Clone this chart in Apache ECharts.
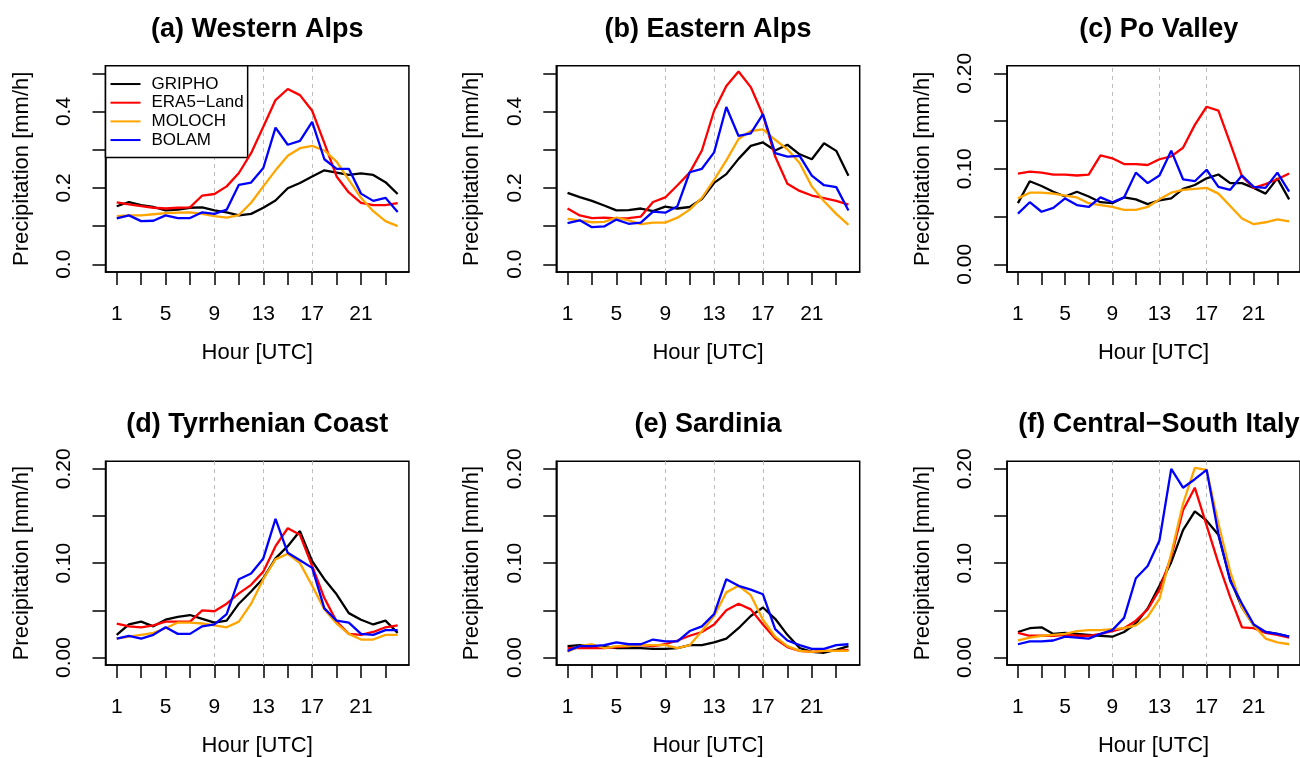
<!DOCTYPE html>
<html><head><meta charset="utf-8">
<script src="https://cdn.jsdelivr.net/npm/echarts@6/dist/echarts.min.js"></script>
<style>html,body{margin:0;padding:0;background:#fff}#c{width:1300px;height:758px}</style>
</head><body><div id="c"></div>
<script>
// ---------- data ----------
const hours = [1,2,3,4,5,6,7,8,9,10,11,12,13,14,15,16,17,18,19,20,21,22,23,24];
const tickHours = [1,3,5,7,9,11,13,15,17,19,21,23];
const labelHours = [1,5,9,13,17,21];
const dashedHours = [9,13,17];
const seriesNames = ['GRIPHO','ERA5\u2212Land','MOLOCH','BOLAM'];
const seriesColors = ['#000000','#FF0000','#FFA500','#0000FF'];
const panelTitles = ['(a) Western Alps','(b) Eastern Alps','(c) Po Valley','(d) Tyrrhenian Coast','(e) Sardinia','(f) Central\u2212South Italy'];
const yTicksLarge = [0,0.1,0.2,0.3,0.4,0.5];
const yLabelsLarge = [0,0.2,0.4];
const yTicksSmall = [0,0.05,0.1,0.15,0.2];
const yLabelsSmall = [0,0.1,0.2];

const westernAlps_GRIPHO = [0.152,0.163,0.155,0.150,0.141,0.143,0.148,0.149,0.141,0.136,0.128,0.132,0.148,0.167,0.199,0.213,0.230,0.246,0.240,0.234,0.238,0.234,0.215,0.184];
const westernAlps_ERA5   = [0.162,0.157,0.152,0.148,0.146,0.148,0.149,0.180,0.184,0.204,0.239,0.291,0.360,0.430,0.459,0.443,0.402,0.317,0.230,0.188,0.161,0.155,0.155,0.160];
const westernAlps_MOLOCH = [0.126,0.128,0.128,0.131,0.134,0.135,0.136,0.132,0.126,0.122,0.129,0.161,0.204,0.246,0.284,0.304,0.310,0.298,0.269,0.221,0.174,0.139,0.113,0.100];
const westernAlps_BOLAM  = [0.120,0.128,0.113,0.114,0.128,0.121,0.121,0.136,0.132,0.143,0.208,0.214,0.252,0.358,0.313,0.323,0.373,0.275,0.250,0.250,0.185,0.166,0.174,0.137];

const easternAlps_GRIPHO = [0.187,0.176,0.166,0.154,0.141,0.142,0.146,0.139,0.151,0.146,0.150,0.171,0.213,0.236,0.276,0.310,0.319,0.298,0.313,0.288,0.275,0.317,0.297,0.232];
const easternAlps_ERA5   = [0.146,0.128,0.121,0.122,0.120,0.121,0.125,0.163,0.175,0.207,0.240,0.298,0.402,0.467,0.505,0.464,0.391,0.282,0.211,0.192,0.180,0.173,0.166,0.156];
const easternAlps_MOLOCH = [0.119,0.115,0.110,0.111,0.122,0.115,0.105,0.109,0.109,0.122,0.143,0.174,0.221,0.272,0.328,0.349,0.353,0.326,0.301,0.265,0.204,0.165,0.132,0.103];
const easternAlps_BOLAM  = [0.108,0.115,0.097,0.099,0.117,0.106,0.109,0.138,0.135,0.152,0.241,0.250,0.293,0.412,0.336,0.343,0.393,0.291,0.282,0.284,0.232,0.207,0.202,0.141];

const poValley_GRIPHO = [0.064,0.087,0.082,0.076,0.071,0.076,0.071,0.065,0.064,0.070,0.068,0.063,0.067,0.069,0.079,0.083,0.090,0.094,0.085,0.085,0.080,0.074,0.090,0.068];
const poValley_ERA5   = [0.095,0.097,0.096,0.094,0.094,0.093,0.094,0.114,0.111,0.105,0.105,0.104,0.110,0.113,0.122,0.146,0.165,0.161,0.127,0.092,0.080,0.084,0.089,0.095];
const poValley_MOLOCH = [0.069,0.075,0.075,0.074,0.072,0.070,0.064,0.062,0.060,0.057,0.057,0.060,0.068,0.075,0.078,0.079,0.080,0.074,0.061,0.048,0.042,0.044,0.047,0.045];
const poValley_BOLAM  = [0.053,0.065,0.055,0.059,0.069,0.062,0.060,0.070,0.065,0.070,0.096,0.085,0.093,0.119,0.089,0.087,0.099,0.081,0.078,0.093,0.081,0.080,0.096,0.076];

const tyrrhenian_GRIPHO = [0.024,0.035,0.038,0.033,0.040,0.043,0.045,0.041,0.037,0.039,0.057,0.070,0.084,0.105,0.118,0.134,0.102,0.083,0.067,0.047,0.040,0.035,0.039,0.026];
const tyrrhenian_ERA5   = [0.036,0.033,0.032,0.034,0.038,0.038,0.038,0.050,0.049,0.057,0.068,0.077,0.091,0.118,0.137,0.130,0.097,0.063,0.038,0.025,0.024,0.027,0.032,0.034];
const tyrrhenian_MOLOCH = [0.020,0.022,0.024,0.026,0.031,0.037,0.037,0.036,0.034,0.032,0.038,0.057,0.083,0.104,0.110,0.100,0.076,0.051,0.036,0.025,0.019,0.019,0.024,0.024];
const tyrrhenian_BOLAM  = [0.020,0.023,0.020,0.024,0.032,0.025,0.025,0.033,0.035,0.046,0.083,0.089,0.105,0.147,0.111,0.103,0.095,0.052,0.039,0.037,0.025,0.024,0.029,0.029];

const sardinia_GRIPHO = [0.012,0.013,0.012,0.012,0.010,0.010,0.010,0.009,0.009,0.010,0.013,0.013,0.016,0.020,0.031,0.044,0.053,0.041,0.024,0.010,0.006,0.005,0.008,0.012];
const sardinia_ERA5   = [0.010,0.010,0.010,0.010,0.011,0.012,0.013,0.012,0.014,0.018,0.023,0.027,0.035,0.050,0.057,0.051,0.035,0.020,0.011,0.007,0.006,0.007,0.007,0.008];
const sardinia_MOLOCH = [0.006,0.012,0.014,0.010,0.012,0.012,0.013,0.013,0.013,0.010,0.013,0.028,0.044,0.069,0.076,0.066,0.040,0.022,0.012,0.007,0.006,0.007,0.007,0.007];
const sardinia_BOLAM  = [0.007,0.012,0.012,0.013,0.016,0.014,0.014,0.019,0.017,0.017,0.028,0.033,0.046,0.083,0.076,0.072,0.067,0.030,0.018,0.013,0.009,0.009,0.013,0.014];

const centralSouth_GRIPHO = [0.027,0.031,0.032,0.025,0.026,0.025,0.024,0.023,0.022,0.027,0.036,0.052,0.076,0.101,0.135,0.155,0.145,0.130,0.083,0.053,0.034,0.027,0.025,0.022];
const centralSouth_ERA5   = [0.026,0.023,0.023,0.023,0.024,0.023,0.023,0.025,0.028,0.031,0.039,0.051,0.072,0.107,0.156,0.180,0.140,0.100,0.064,0.032,0.031,0.026,0.024,0.021];
const centralSouth_MOLOCH = [0.018,0.021,0.023,0.024,0.025,0.028,0.029,0.029,0.030,0.031,0.034,0.043,0.062,0.110,0.163,0.201,0.199,0.142,0.091,0.053,0.034,0.020,0.016,0.014];
const centralSouth_BOLAM  = [0.014,0.017,0.017,0.018,0.022,0.021,0.020,0.025,0.029,0.042,0.084,0.097,0.124,0.200,0.180,0.189,0.199,0.131,0.081,0.057,0.035,0.027,0.025,0.022];

const panelData = [
  [westernAlps_GRIPHO, westernAlps_ERA5, westernAlps_MOLOCH, westernAlps_BOLAM],
  [easternAlps_GRIPHO, easternAlps_ERA5, easternAlps_MOLOCH, easternAlps_BOLAM],
  [poValley_GRIPHO, poValley_ERA5, poValley_MOLOCH, poValley_BOLAM],
  [tyrrhenian_GRIPHO, tyrrhenian_ERA5, tyrrhenian_MOLOCH, tyrrhenian_BOLAM],
  [sardinia_GRIPHO, sardinia_ERA5, sardinia_MOLOCH, sardinia_BOLAM],
  [centralSouth_GRIPHO, centralSouth_ERA5, centralSouth_MOLOCH, centralSouth_BOLAM]
];
const panelLarge = [true, true, false, false, false, false];

// ---------- layout ----------
const FONT = '"Liberation Sans", Arial, Helvetica, sans-serif';
const colLeft = [105.5, 556.3, 1007.1];
const rowTop = [65.7, 461.3];
const gw = 303.4, gh = 206.2;

const grids = [], xAxes = [], yAxes = [], titles = [], series = [];
for (let p = 0; p < 6; p++) {
  const c = p % 3, r = Math.floor(p / 3);
  const large = panelLarge[p];
  grids.push({left: colLeft[c], top: rowTop[r], width: gw, height: gh, show: true,
    borderColor: '#000', borderWidth: 1.5, backgroundColor: 'transparent', containLabel: false});
  titles.push({text: panelTitles[p], left: colLeft[c] + gw / 2, top: rowTop[r] - 50, textAlign: 'center', padding: 0,
    textStyle: {fontFamily: FONT, fontWeight: 'bold', fontSize: 27, color: '#000'}});
  xAxes.push({gridIndex: p, type: 'value', min: 0.08, max: 24.92,
    axisLine: {show: true, onZero: false, lineStyle: {color: '#000', width: 1.5}},
    axisTick: {show: true, length: 13, customValues: tickHours, lineStyle: {color: '#000', width: 1.5}},
    axisLabel: {customValues: labelHours, margin: 32, fontSize: 21, color: '#000', fontFamily: FONT},
    splitLine: {show: false},
    name: 'Hour [UTC]', nameLocation: 'middle', nameGap: 70,
    nameTextStyle: {fontSize: 22, color: '#000', fontFamily: FONT}});
  yAxes.push({gridIndex: p, type: 'value',
    min: large ? -0.02 : -0.008, max: large ? 0.52 : 0.208,
    axisLine: {show: true, onZero: false, lineStyle: {color: '#000', width: 1.5}},
    axisTick: {show: true, length: 13, customValues: large ? yTicksLarge : yTicksSmall, lineStyle: {color: '#000', width: 1.5}},
    axisLabel: {customValues: large ? yLabelsLarge : yLabelsSmall, rotate: 90, margin: 31, fontSize: 21, color: '#000', fontFamily: FONT,
      formatter: v => large ? v.toFixed(1) : v.toFixed(2)},
    splitLine: {show: false},
    name: 'Precipitation [mm/h]', nameLocation: 'middle', nameGap: 73,
    nameTextStyle: {fontSize: 22, color: '#000', fontFamily: FONT}});
  for (let s = 0; s < 4; s++) {
    const vals = panelData[p][s];
    const ser = {type: 'line', name: seriesNames[s], xAxisIndex: p, yAxisIndex: p,
      data: hours.map((h, k) => [h, vals[k]]), symbol: 'none', showSymbol: false,
      lineStyle: {color: seriesColors[s], width: 2.3}, itemStyle: {color: seriesColors[s]},
      emphasis: {disabled: true}, silent: true, animation: false, z: 3 + s};
    if (s === 0) {
      ser.markLine = {silent: true, symbol: ['none', 'none'], z: 1, animation: false,
        label: {show: false},
        lineStyle: {type: [4, 4], color: '#bdbdbd', width: 1},
        emphasis: {disabled: true},
        data: dashedHours.map(h => ({xAxis: h}))};
    }
    series.push(ser);
  }
}

const chart = echarts.init(document.getElementById('c'), null, {renderer: 'canvas'});
chart.setOption({
  animation: false,
  backgroundColor: '#fff',
  title: titles,
  grid: grids,
  xAxis: xAxes,
  yAxis: yAxes,
  legend: {show: true, orient: 'vertical', left: 105.5, top: 65.7,
    data: seriesNames, itemWidth: 30, itemHeight: 14, itemGap: 0,
    padding: [9, 4, 8, 4], borderColor: '#000', borderWidth: 1.5, backgroundColor: '#fff',
    selectedMode: false,
    itemStyle: {color: 'rgba(0,0,0,0)', borderWidth: 0, opacity: 0},
    textStyle: {fontSize: 17, color: '#000', fontFamily: FONT, lineHeight: 18.67, padding: [0, 0, 0, 6]}},
  series: series
});
</script></body></html>
